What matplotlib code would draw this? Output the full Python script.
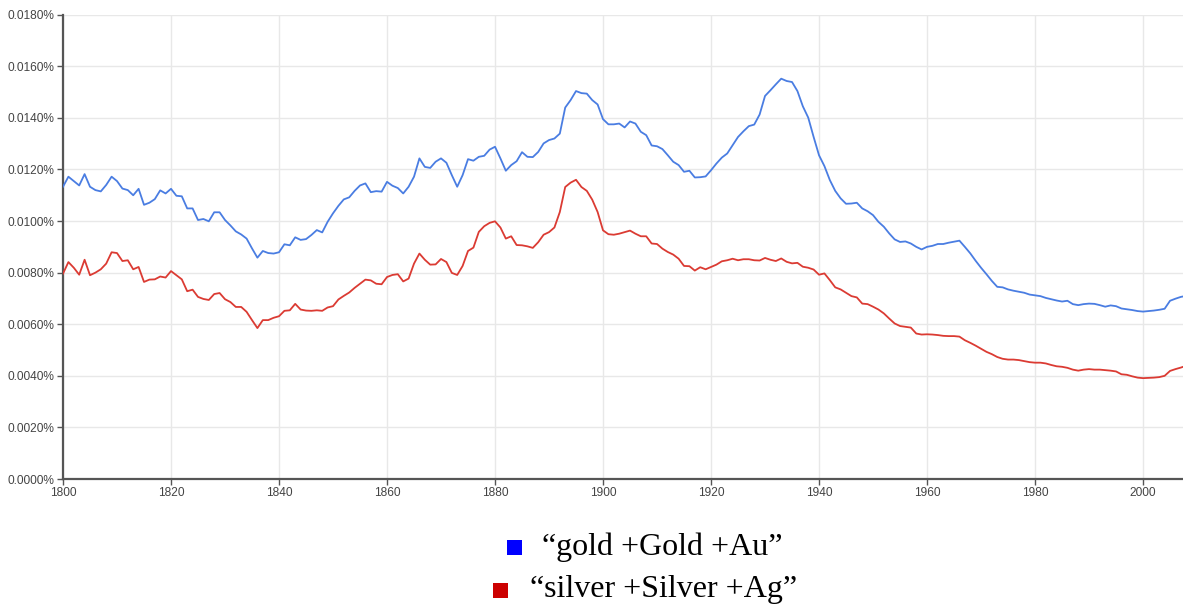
import matplotlib
matplotlib.use("Agg")
import matplotlib.pyplot as plt
from matplotlib.patches import Rectangle
from matplotlib.ticker import FuncFormatter

# ── data (percent of all words, one value per year 1800–2008) ─────────────────
years = list(range(1800, 2009))

gold = [
    0.01133, 0.01172, 0.01155, 0.01138, 0.01182, 0.01133, 0.01120, 0.01115, 0.01140, 0.01172,  # 1800s
    0.01155, 0.01126, 0.01120, 0.01100, 0.01125, 0.01063, 0.01071, 0.01085, 0.01119, 0.01107,  # 1810s
    0.01125, 0.01098, 0.01096, 0.01049, 0.01049, 0.01004, 0.01008, 0.00999, 0.01034, 0.01034,  # 1820s
    0.01004, 0.00983, 0.00960, 0.00948, 0.00932, 0.00894, 0.00858, 0.00884, 0.00876, 0.00874,  # 1830s
    0.00879, 0.00910, 0.00906, 0.00937, 0.00927, 0.00930, 0.00946, 0.00965, 0.00956, 0.00997,  # 1840s
    0.01030, 0.01059, 0.01084, 0.01092, 0.01117, 0.01138, 0.01146, 0.01112, 0.01116, 0.01114,  # 1850s
    0.01152, 0.01137, 0.01128, 0.01107, 0.01133, 0.01172, 0.01243, 0.01210, 0.01206, 0.01230,  # 1860s
    0.01243, 0.01226, 0.01178, 0.01133, 0.01178, 0.01240, 0.01234, 0.01249, 0.01253, 0.01277,  # 1870s
    0.01288, 0.01243, 0.01195, 0.01217, 0.01232, 0.01267, 0.01249, 0.01248, 0.01268, 0.01301,  # 1880s
    0.01314, 0.01320, 0.01339, 0.01440, 0.01469, 0.01504, 0.01496, 0.01494, 0.01469, 0.01452,  # 1890s
    0.01395, 0.01375, 0.01375, 0.01378, 0.01363, 0.01386, 0.01378, 0.01346, 0.01333, 0.01293,  # 1900s
    0.01290, 0.01279, 0.01255, 0.01230, 0.01217, 0.01191, 0.01195, 0.01169, 0.01170, 0.01173,  # 1910s
    0.01197, 0.01223, 0.01246, 0.01262, 0.01294, 0.01326, 0.01348, 0.01368, 0.01374, 0.01413,  # 1920s
    0.01485, 0.01507, 0.01530, 0.01552, 0.01543, 0.01539, 0.01504, 0.01445, 0.01401, 0.01326,  # 1930s
    0.01255, 0.01213, 0.01159, 0.01117, 0.01088, 0.01067, 0.01068, 0.01071, 0.01049, 0.01038,  # 1940s
    0.01023, 0.00997, 0.00978, 0.00952, 0.00929, 0.00919, 0.00921, 0.00913, 0.00900, 0.00890,  # 1950s
    0.00900, 0.00904, 0.00911, 0.00911, 0.00916, 0.00920, 0.00924, 0.00900, 0.00875, 0.00846,  # 1960s
    0.00819, 0.00794, 0.00768, 0.00745, 0.00743, 0.00735, 0.00730, 0.00726, 0.00722, 0.00715,  # 1970s
    0.00712, 0.00709, 0.00702, 0.00697, 0.00692, 0.00688, 0.00691, 0.00678, 0.00674, 0.00678,  # 1980s
    0.00680, 0.00679, 0.00674, 0.00668, 0.00673, 0.00670, 0.00661, 0.00658, 0.00655, 0.00651,  # 1990s
    0.00649, 0.00651, 0.00653, 0.00656, 0.00660, 0.00691, 0.00699, 0.00706, 0.00710,           # 2000s
]

silver = [
    0.00796, 0.00841, 0.00819, 0.00792, 0.00850, 0.00790, 0.00800, 0.00813, 0.00835, 0.00879,  # 1800s
    0.00876, 0.00845, 0.00848, 0.00813, 0.00822, 0.00764, 0.00773, 0.00774, 0.00785, 0.00781,  # 1810s
    0.00806, 0.00790, 0.00774, 0.00728, 0.00734, 0.00706, 0.00698, 0.00694, 0.00717, 0.00721,  # 1820s
    0.00697, 0.00686, 0.00667, 0.00667, 0.00648, 0.00616, 0.00585, 0.00616, 0.00616, 0.00625,  # 1830s
    0.00631, 0.00652, 0.00654, 0.00679, 0.00657, 0.00653, 0.00652, 0.00654, 0.00652, 0.00665,  # 1840s
    0.00670, 0.00696, 0.00710, 0.00723, 0.00741, 0.00757, 0.00773, 0.00770, 0.00757, 0.00755,  # 1850s
    0.00783, 0.00791, 0.00794, 0.00766, 0.00777, 0.00835, 0.00874, 0.00850, 0.00831, 0.00832,  # 1860s
    0.00853, 0.00841, 0.00799, 0.00791, 0.00826, 0.00884, 0.00897, 0.00958, 0.00980, 0.00993,  # 1870s
    0.00999, 0.00975, 0.00932, 0.00941, 0.00907, 0.00906, 0.00902, 0.00896, 0.00918, 0.00947,  # 1880s
    0.00957, 0.00975, 0.01035, 0.01132, 0.01149, 0.01160, 0.01132, 0.01117, 0.01083, 0.01035,  # 1890s
    0.00964, 0.00949, 0.00947, 0.00951, 0.00957, 0.00963, 0.00951, 0.00941, 0.00941, 0.00913,  # 1900s
    0.00911, 0.00893, 0.00880, 0.00870, 0.00854, 0.00826, 0.00825, 0.00808, 0.00821, 0.00813,  # 1910s
    0.00822, 0.00831, 0.00844, 0.00848, 0.00854, 0.00848, 0.00852, 0.00852, 0.00848, 0.00847,  # 1920s
    0.00857, 0.00850, 0.00845, 0.00855, 0.00842, 0.00836, 0.00838, 0.00823, 0.00819, 0.00812,  # 1930s
    0.00792, 0.00797, 0.00771, 0.00743, 0.00735, 0.00722, 0.00709, 0.00704, 0.00680, 0.00678,  # 1940s
    0.00668, 0.00657, 0.00642, 0.00622, 0.00603, 0.00593, 0.00590, 0.00587, 0.00564, 0.00560,  # 1950s
    0.00561, 0.00560, 0.00558, 0.00555, 0.00554, 0.00554, 0.00552, 0.00538, 0.00528, 0.00517,  # 1960s
    0.00505, 0.00493, 0.00484, 0.00473, 0.00466, 0.00463, 0.00463, 0.00461, 0.00457, 0.00453,  # 1970s
    0.00451, 0.00451, 0.00448, 0.00442, 0.00437, 0.00435, 0.00431, 0.00424, 0.00420, 0.00424,  # 1980s
    0.00426, 0.00424, 0.00424, 0.00422, 0.00420, 0.00417, 0.00406, 0.00404, 0.00398, 0.00393,  # 1990s
    0.00391, 0.00392, 0.00393, 0.00395, 0.00400, 0.00419, 0.00426, 0.00432, 0.00439,           # 2000s
]

labels = ["\u201cgold +Gold +Au\u201d", "\u201csilver +Silver +Ag\u201d"]
y_ticks = [0.0, 0.002, 0.004, 0.006, 0.008, 0.010, 0.012, 0.014, 0.016, 0.018]
x_ticks = [1800, 1820, 1840, 1860, 1880, 1900, 1920, 1940, 1960, 1980, 2000]

# ── style ────────────────────────────────────────────────────────────────────
LINE_BLUE, LINE_RED = "#4a7de2", "#db3b33"
KEY_BLUE, KEY_RED = "#0000ff", "#cc0000"
AXIS_C, GRID_C, TXT_C = "#555555", "#e8e8e8", "#444444"

plt.rcParams["font.family"] = ["Liberation Sans", "DejaVu Sans"]

W, H = 1183, 608
fig = plt.figure(figsize=(W / 100, H / 100), dpi=100)
fig.patch.set_facecolor("white")

ax = fig.add_axes([63 / W, 1 - 479 / H, 1 - 63 / W, (479 - 14.7) / H])
ax.plot(years, gold, color=LINE_BLUE, lw=1.3, zorder=3)
ax.plot(years, silver, color=LINE_RED, lw=1.3, zorder=3)

ax.set_xlim(1800, 2007.4)
ax.set_ylim(0, 0.018)
ax.set_xticks(x_ticks)
ax.set_yticks(y_ticks)
ax.yaxis.set_major_formatter(FuncFormatter(lambda v, _: f"{v:.4f}%"))
ax.grid(True, color=GRID_C, lw=1.0, zorder=0)

for s in ("top", "right"):
    ax.spines[s].set_visible(False)
for s in ("left", "bottom"):
    ax.spines[s].set_color(AXIS_C)
    ax.spines[s].set_linewidth(1.6)

ax.tick_params(axis="both", colors=AXIS_C, labelcolor=TXT_C,
               labelsize=8.6, length=4, width=1.0, pad=2)

# ── legend below the chart (serif, as in the source) ─────────────────────────
serif = ["Liberation Serif", "DejaVu Serif"]
for (x0, y_top, col), lbl, tx, base in zip(
        [(507, 540, KEY_BLUE), (493, 583, KEY_RED)],
        labels, [542, 530], [555, 597]):
    fig.patches.append(Rectangle((x0 / W, 1 - (y_top + 15) / H), 15 / W, 15 / H,
                                 transform=fig.transFigure, facecolor=col,
                                 edgecolor="none"))
    fig.text(tx / W, 1 - base / H, lbl, family=serif, fontsize=23,
             ha="left", va="baseline", color="black")

fig.savefig("out.png", dpi=100, facecolor="white")
